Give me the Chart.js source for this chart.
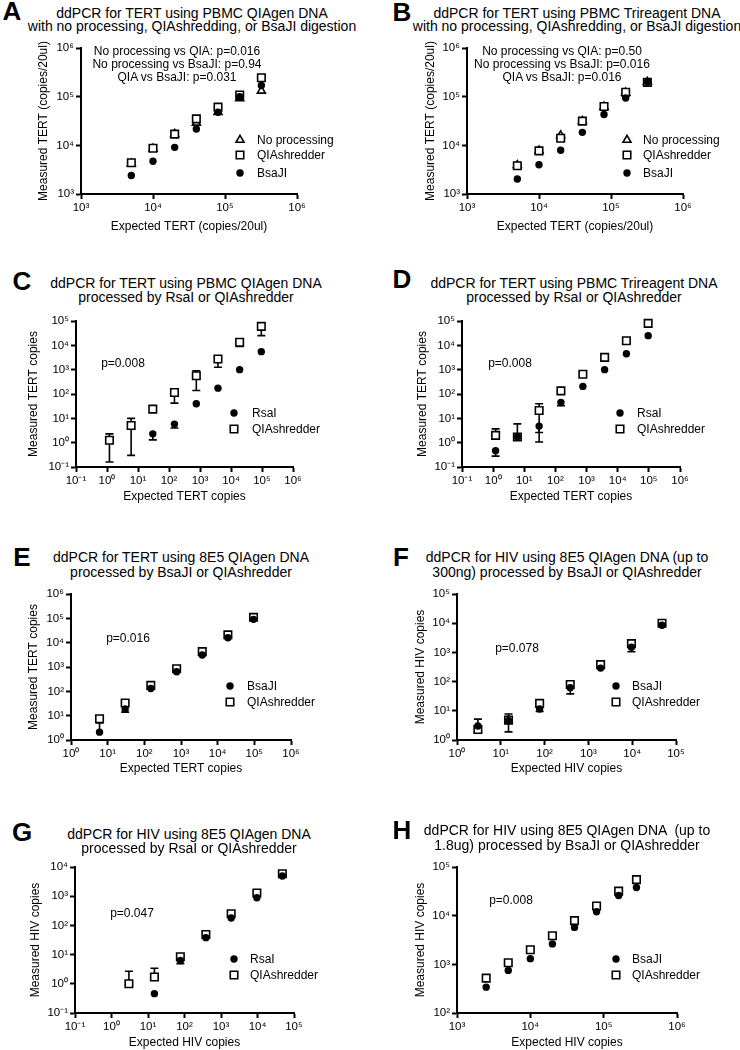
<!DOCTYPE html>
<html><head><meta charset="utf-8">
<script src="https://cdn.jsdelivr.net/npm/chart.js@4.4.1/dist/chart.umd.min.js"></script>
<style>
body{margin:0;background:#fff;}
#fig{position:relative;width:740px;height:1050px;background:#fff;overflow:hidden;font-family:"Liberation Sans",Arial,Helvetica,sans-serif;color:#000;}
.pc{position:absolute;}
.t{position:absolute;white-space:pre;transform:translate(-50%,-50%);font-size:14px;line-height:14px;}
.lt{position:absolute;white-space:nowrap;transform:translate(-50%,-50%);font-weight:bold;font-size:26px;line-height:26px;}
.an{position:absolute;white-space:nowrap;transform:translate(-50%,-50%);font-size:12px;line-height:12px;}
</style></head><body><div id="fig"></div>
<script>
// ---------- DATA ----------
// Panel A
const xA = [5000, 10000, 20000, 40000, 80000, 160000, 320000];
const aNoProc = [4200, 8500, 17000, 29000, 48000, 92000, 132000];
const aQIA    = [4400, 8700, 17000, 35000, 61000, 108000, 245000];
const aBsaJI  = [2400, 4700, 9100, 21700, 48000, 100000, 170000];
// Panel B
const xB = [5000, 10000, 20000, 40000, 80000, 160000, 320000];
const bNoProc = [3900, 7800, 16000, 31500, 62000, 120000, 200000];
const bQIA    = [3800, 7700, 14000, 31500, 63000, 123000, 197000];
const bBsaJI  = [2040, 4000, 7900, 18500, 43000, 94000, 200000];
// Panel C
const xC = [1.2, 6, 30, 150, 760, 3800, 19000, 95000];
const cRsaI      = [null, null, 2.3, 5.8, 40, 174, 1000, 5500];
const cRsaILo    = [null, null, 1.3, 4.0, null, null, null, null];
const cQIA       = [1.25, 5.1, 24, 115, 560, 2750, 13400, 60000];
const cQIALo     = [0.16, 0.30, null, 42, 140, 1250, 9000, 25000];
const cQIAHi     = [2.3, 10, null, null, 900, null, null, null];
// Panel D
const xD = [1.2, 6, 30, 150, 760, 3800, 19000, 95000];
const dRsaI      = [0.47, 1.7, 4.8, 45, 205, 1000, 4500, 25000];
const dRsaILo    = [0.28, null, 1.07, 33, null, null, null, null];
const dQIA       = [2.0, 1.7, 21, 135, 650, 3200, 15500, 80000];
const dQIAHi     = [3.7, 5.9, 40, null, null, null, null, null];
const dQIALo     = [null, null, 2.6, null, null, null, null, null];
// Panel E
const xE = [6, 30, 150, 760, 3800, 19000, 95000];
const eBsaJI     = [2.1, 19, 130, 640, 3100, 16000, 91000];
const eBsaJIHi   = [5.0, null, null, null, null, null, null];
const eBsaJILo   = [null, 14, null, null, null, null, null];
const eQIA       = [7.5, 33, 175, 850, 4300, 21000, 110000];
// Panel F
const xF = [3, 15, 77, 385, 1900, 9600, 48000];
const fBsaJI     = [3.0, 4.6, 11.5, 62, 290, 1500, 8500];
const fBsaJILo   = [null, 1.9, 9.5, 38, null, 1050, null];
const fQIA       = [2.3, 4.8, 18, 80, 380, 2000, 10000];
const fQIAHi     = [5.2, 7.8, null, null, null, null, null];
const fQIALo     = [1.7, null, null, null, null, null, null];
// Panel G
const xG = [3, 15, 77, 385, 1900, 9600, 48000];
const gRsaI      = [null, 0.46, 6.3, 38, 180, 890, 4900];
const gRsaILo    = [null, null, 4.9, null, null, null, null];
const gQIA       = [1.0, 1.7, 8.4, 49, 250, 1290, 5900];
const gQIAHi     = [2.7, 3.4, null, null, null, null, null];
// Panel H
const xH = [2500, 5000, 10000, 20000, 40000, 80000, 160000, 280000];
const hBsaJI     = [340, 750, 1310, 2630, 5740, 12000, 25900, 37800];
const hQIA       = [520, 1080, 2000, 3870, 7900, 15800, 32000, 55000];

// tick values
const ticks3to6 = [1e3, 1e4, 1e5, 1e6];
const ticksM1to5 = [0.1, 1, 10, 100, 1e3, 1e4, 1e5];
const ticksM1to6 = [0.1, 1, 10, 100, 1e3, 1e4, 1e5, 1e6];
const ticks0to6 = [1, 10, 100, 1e3, 1e4, 1e5, 1e6];
const ticks0to5 = [1, 10, 100, 1e3, 1e4, 1e5];
const ticksM1to4 = [0.1, 1, 10, 100, 1e3, 1e4];
const ticks2to5 = [100, 1e3, 1e4, 1e5];

// ---------- RENDERING ----------
const FONT = '"Liberation Sans", Arial, Helvetica, sans-serif';
const SUP = {'0':'⁰','1':'¹','2':'²','3':'³','4':'⁴','5':'⁵','6':'⁶','7':'⁷','8':'⁸','9':'⁹','-':'⁻'};
function tickLabel(v){ const e = Math.round(Math.log10(v)); return '10' + String(e).split('').map(c => SUP[c]).join(''); }

const STY = {
  tri: {pointStyle:'triangle', r:4.6, fill:'#fff', stroke:'#000', bw:1.6},
  sq:  {pointStyle:'rect', r:5.3, fill:'#fff', stroke:'#000', bw:1.6},
  dot: {pointStyle:'circle', r:3.7, fill:'#000', stroke:'#000', bw:0.01}
};

const panels = [
 {letter:'A', lp:[12,11], title:['ddPCR for TERT using PBMC QIAgen DNA','with no processing, QIAshredding, or BsaJI digestion'], tx:192, ty:[13,26],
  box:[81,48,297,194], xr:[1e3,1e6], yr:[1e3,1e6], xt:ticks3to6, yt:ticks3to6,
  xTitle:'Expected TERT (copies/20ul)', yTitle:'Measured TERT (copies/20ul)', YW:45, XH:40,
  series:[{label:'BsaJI',sty:'dot',x:xA,y:aBsaJI},{label:'QIAshredder',sty:'sq',x:xA,y:aQIA},{label:'No processing',sty:'tri',x:xA,y:aNoProc}],
  legend:{x:240, tx:257, ys:[140,155,173], order:[2,1,0]},
  notes:{cx:177, ys:[51,64,77], lines:['No processing vs QIA: p=0.016','No processing vs BsaJI: p=0.94','QIA vs BsaJI: p=0.031']}},
 {letter:'B', lp:[402,12], title:['ddPCR for TERT using PBMC Trireagent DNA','with no processing, QIAshredding, or BsaJI digestion'], tx:577, ty:[13,26],
  box:[467,48,683,194], xr:[1e3,1e6], yr:[1e3,1e6], xt:ticks3to6, yt:ticks3to6,
  xTitle:'Expected TERT (copies/20ul)', yTitle:'Measured TERT (copies/20ul)', YW:44, XH:40,
  series:[{label:'BsaJI',sty:'dot',x:xB,y:bBsaJI},{label:'QIAshredder',sty:'sq',x:xB,y:bQIA},{label:'No processing',sty:'tri',x:xB,y:bNoProc}],
  legend:{x:627, tx:643, ys:[140,155,173], order:[2,1,0]},
  notes:{cx:562, ys:[51,64,77], lines:['No processing vs QIA: p=0.50','No processing vs BsaJI: p=0.016','QIA vs BsaJI: p=0.016']}},
 {letter:'C', lp:[22,281], title:['ddPCR for TERT using PBMC QIAgen DNA','processed by RsaI or QIAshredder'], tx:186, ty:[283,297],
  box:[76,321,293,467], xr:[0.1,1e6], yr:[0.1,1e5], xt:ticksM1to6, yt:ticksM1to5,
  xTitle:'Expected TERT copies', yTitle:'Measured TERT copies', YW:50, XH:37,
  series:[{label:'RsaI',sty:'dot',x:xC,y:cRsaI,lo:cRsaILo},{label:'QIAshredder',sty:'sq',x:xC,y:cQIA,lo:cQIALo,hi:cQIAHi}],
  legend:{x:234, tx:252, ys:[413,429], order:[0,1]},
  notes:{cx:123, ys:[363], lines:['p=0.008']}},
 {letter:'D', lp:[402,279], title:['ddPCR for TERT using PBMC Trireagent DNA','processed by RsaI or QIAshredder'], tx:574, ty:[283,297],
  box:[462,321,680,467], xr:[0.1,1e6], yr:[0.1,1e5], xt:ticksM1to6, yt:ticksM1to5,
  xTitle:'Expected TERT copies', yTitle:'Measured TERT copies', YW:47, XH:37,
  series:[{label:'RsaI',sty:'dot',x:xD,y:dRsaI,lo:dRsaILo},{label:'QIAshredder',sty:'sq',x:xD,y:dQIA,lo:dQIALo,hi:dQIAHi}],
  legend:{x:620, tx:637, ys:[413,429], order:[0,1]},
  notes:{cx:510, ys:[363], lines:['p=0.008']}},
 {letter:'E', lp:[22,557], title:['ddPCR for TERT using 8E5 QIAgen DNA','processed by BsaJI or QIAshredder'], tx:181, ty:[557,572],
  box:[71,594,291,740], xr:[1,1e6], yr:[1,1e6], xt:ticks0to6, yt:ticks0to6,
  xTitle:'Expected TERT copies', yTitle:'Measured TERT copies', YW:45, XH:36,
  series:[{label:'BsaJI',sty:'dot',x:xE,y:eBsaJI,lo:eBsaJILo,hi:eBsaJIHi},{label:'QIAshredder',sty:'sq',x:xE,y:eQIA}],
  legend:{x:230, tx:247, ys:[686,702], order:[0,1]},
  notes:{cx:128, ys:[638], lines:['p=0.016']}},
 {letter:'F', lp:[401,557], title:['ddPCR for HIV using 8E5 QIAgen DNA (up to','300ng) processed by BsaJI or QIAshredder'], tx:567, ty:[557,572],
  box:[457,594,676,740], xr:[1,1e5], yr:[1,1e5], xt:ticks0to5, yt:ticks0to5,
  xTitle:'Expected HIV copies', yTitle:'Measured HIV copies', YW:44, XH:36,
  series:[{label:'BsaJI',sty:'dot',x:xF,y:fBsaJI,lo:fBsaJILo},{label:'QIAshredder',sty:'sq',x:xF,y:fQIA,lo:fQIALo,hi:fQIAHi}],
  legend:{x:616, tx:632, ys:[686,702], order:[0,1]},
  notes:{cx:517, ys:[648], lines:['p=0.078']}},
 {letter:'G', lp:[22,832], title:['ddPCR for HIV using 8E5 QIAgen DNA','processed by RsaI or QIAshredder'], tx:189, ty:[834,848],
  box:[75,867,294,1013], xr:[0.1,1e5], yr:[0.1,1e4], xt:ticksM1to5, yt:ticksM1to4,
  xTitle:'Expected HIV copies', yTitle:'Measured HIV copies', YW:47, XH:37,
  series:[{label:'RsaI',sty:'dot',x:xG,y:gRsaI,lo:gRsaILo},{label:'QIAshredder',sty:'sq',x:xG,y:gQIA,hi:gQIAHi}],
  legend:{x:234, tx:250, ys:[959,975], order:[0,1]},
  notes:{cx:132, ys:[913], lines:['p=0.047']}},
 {letter:'H', lp:[402,830], title:['ddPCR for HIV using 8E5 QIAgen DNA  (up to','1.8ug) processed by BsaJI or QIAshredder'], tx:567, ty:[830,845],
  box:[457,867,677,1013], xr:[1e3,1e6], yr:[100,1e5], xt:ticks3to6, yt:ticks2to5,
  xTitle:'Expected HIV copies', yTitle:'Measured HIV copies', YW:44, XH:37,
  series:[{label:'BsaJI',sty:'dot',x:xH,y:hBsaJI},{label:'QIAshredder',sty:'sq',x:xH,y:hQIA}],
  legend:{x:616, tx:632, ys:[959,975], order:[0,1]},
  notes:{cx:511, ys:[900], lines:['p=0.008']}}
];

function drawSymbol(ctx, s, x, y){
  ctx.save();
  ctx.fillStyle = s.fill; ctx.strokeStyle = s.stroke; ctx.lineWidth = s.bw;
  ctx.beginPath();
  if (s.pointStyle === 'circle') { ctx.arc(x, y, s.r, 0, Math.PI*2); }
  else if (s.pointStyle === 'rect') { const h = s.r*Math.SQRT1_2; ctx.rect(x-h, y-h, 2*h, 2*h); }
  else { let a = 0; ctx.moveTo(x+Math.sin(a)*s.r, y-Math.cos(a)*s.r); a += 2*Math.PI/3; ctx.lineTo(x+Math.sin(a)*s.r, y-Math.cos(a)*s.r); a += 2*Math.PI/3; ctx.lineTo(x+Math.sin(a)*s.r, y-Math.cos(a)*s.r); ctx.closePath(); }
  ctx.fill(); if (s.bw > 0.1) ctx.stroke();
  ctx.restore();
}

const errorBars = {
  id:'errorBars',
  beforeDatasetsDraw(chart){
    const ctx = chart.ctx, xs = chart.scales.x, ys = chart.scales.y;
    ctx.save(); ctx.strokeStyle = '#000'; ctx.lineWidth = 1.6;
    chart.data.datasets.forEach(ds => {
      ds.data.forEach(p => {
        const px = xs.getPixelForValue(p.x), py = ys.getPixelForValue(p.y);
        [p.lo, p.hi].forEach(v => {
          if (v == null) return;
          const ey = ys.getPixelForValue(v);
          ctx.beginPath(); ctx.moveTo(px, py); ctx.lineTo(px, ey);
          ctx.moveTo(px-4, ey); ctx.lineTo(px+4, ey); ctx.stroke();
        });
      });
    });
    ctx.restore();
  }
};

const inLegend = {
  id:'inLegend',
  afterDraw(chart){
    const o = chart.options.plugins.inLegend; if (!o) return;
    const ctx = chart.ctx;
    o.order.forEach((si, k) => {
      const s = o.series[si];
      const y = o.ys[k] - o.oy;
      drawSymbol(ctx, STY[s.sty], o.x - o.ox, y);
      ctx.save(); ctx.fillStyle = '#000'; ctx.font = '12px ' + FONT; ctx.textBaseline = 'middle'; ctx.textAlign = 'left';
      ctx.fillText(s.label, o.tx - o.ox, y + 0.5);
      ctx.restore();
    });
  }
};

function axis(min, max, tvals, title, pos, fitSize){
  return {
    type:'logarithmic', position:pos, min:min, max:max,
    afterBuildTicks: s => { s.ticks = tvals.map(v => ({value:v})); },
    afterFit: s => {
      if (pos === 'bottom') { s.height = fitSize; s.paddingLeft = 0; s.paddingRight = 0; }
      else { s.width = fitSize; s.paddingTop = 0; s.paddingBottom = 0; }
    },
    ticks:{autoSkip:false, maxRotation:0, minRotation:0, color:'#000', padding:2, font:{family:FONT, size:11.5}, callback:(v) => tickLabel(v)},
    grid:{display:true, drawOnChartArea:false, drawTicks:true, tickLength:5, tickWidth:2, tickColor:'#000', color:'#000'},
    border:{display:true, color:'#000', width:2},
    title:{display:true, text:title, color:'#000', font:{family:FONT, size:12}, padding:0}
  };
}

const fig = document.getElementById('fig');
function addDiv(cls, text, x, y){ const d = document.createElement('div'); d.className = cls; d.textContent = text; d.style.left = x+'px'; d.style.top = y+'px'; fig.appendChild(d); }

panels.forEach(P => {
  const [l,t,r,b] = P.box, PT = 14, PR = 60;
  const W = r - l, H = b - t;
  const cl = l - P.YW, ct = t - PT, cw = P.YW + W + PR, ch = PT + H + P.XH;
  const div = document.createElement('div'); div.className = 'pc';
  div.style.left = cl+'px'; div.style.top = ct+'px'; div.style.width = cw+'px'; div.style.height = ch+'px';
  const cv = document.createElement('canvas'); cv.width = cw; cv.height = ch; cv.style.width = cw+'px'; cv.style.height = ch+'px';
  div.appendChild(cv); fig.appendChild(div);
  const datasets = P.series.map(s => {
    const st = STY[s.sty];
    const data = [];
    s.x.forEach((xv, i) => { if (s.y[i] == null) return; data.push({x:xv, y:s.y[i], lo:s.lo ? s.lo[i] : null, hi:s.hi ? s.hi[i] : null}); });
    return {label:s.label, data:data, showLine:false, clip:false,
      pointStyle:st.pointStyle, pointRadius:st.r, pointHoverRadius:st.r,
      pointBackgroundColor:st.fill, pointBorderColor:st.stroke, pointBorderWidth:st.bw,
      backgroundColor:st.fill, borderColor:st.stroke};
  });
  new Chart(cv, {
    type:'scatter',
    data:{datasets:datasets},
    options:{
      responsive:false, maintainAspectRatio:false, animation:false, devicePixelRatio:1,
      layout:{padding:{left:0, top:PT, right:PR, bottom:0}},
      scales:{ x: axis(P.xr[0], P.xr[1], P.xt, P.xTitle, 'bottom', P.XH), y: axis(P.yr[0], P.yr[1], P.yt, P.yTitle, 'left', P.YW) },
      plugins:{ legend:{display:false}, tooltip:{enabled:false},
        inLegend:{x:P.legend.x, tx:P.legend.tx, ys:P.legend.ys, order:P.legend.order, series:P.series, ox:cl, oy:ct} }
    },
    plugins:[errorBars, inLegend]
  });
  addDiv('lt', P.letter, P.lp[0], P.lp[1]);
  P.title.forEach((line, i) => addDiv('t', line, P.tx, P.ty[i]));
  P.notes.lines.forEach((line, i) => addDiv('an', line, P.notes.cx, P.notes.ys[i]));
});
</script>
</body></html>
